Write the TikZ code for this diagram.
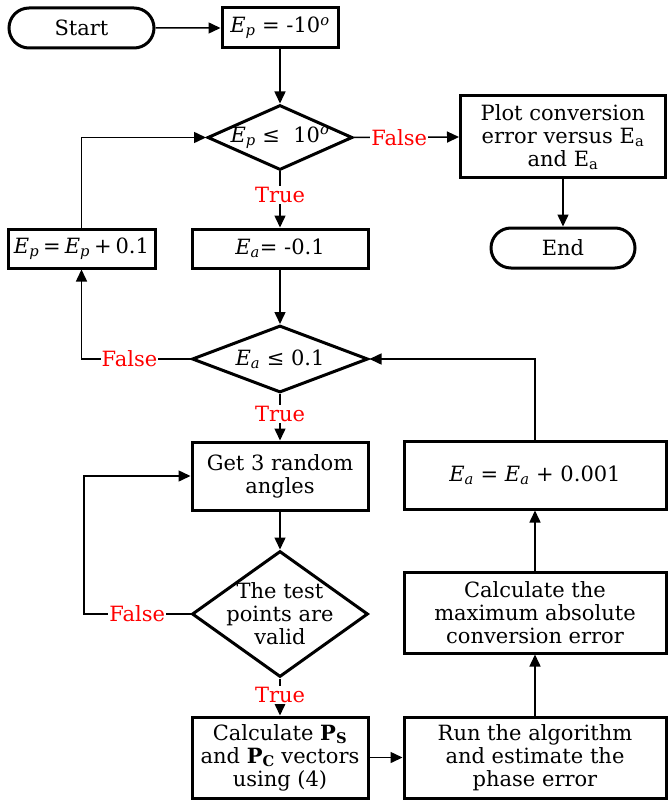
\documentclass[tikz,border=0pt]{standalone}
\usepackage{fontspec}
\setmainfont{DejaVu Serif}
\usetikzlibrary{shapes.geometric,shapes.misc,arrows.meta}
\newcommand{\Ep}{\textit{E}\textsubscript{\textit{p}}}
\newcommand{\Ea}{\textit{E}\textsubscript{\textit{a}}}
\tikzset{
 box/.style={draw, line width=3pt, align=center, inner sep=1pt},
 term/.style={draw, line width=3pt, rounded rectangle, inner sep=1pt},
 test/.style={draw, diamond, line width=3pt, inner sep=0pt},
 lab/.style={text=red, fill=white, inner sep=1pt},
 flow/.style={->, line width=1.5pt},
}
\begin{document}
\begin{tikzpicture}[x=1pt, y=-1pt, >={Triangle[length=12pt,width=11pt]}, font=\fontsize{21}{23}\selectfont]
\useasboundingbox (0,0) rectangle (667,805);

\node[term, minimum width=147pt, minimum height=40pt] (start) at (81.5,28) {Start};
\node[box, minimum width=116pt, minimum height=40pt] (ep0) at (280,28) {\Ep{} = -10\textsuperscript{\textit{o}}};
\node[test, minimum width=145pt, minimum height=65pt] (d1) at (280,137.5) {};
\node (d1t) at (d1) {\Ep{} ≤~ 10\textsuperscript{\textit{o}}};
\node[box, minimum width=205pt, minimum height=82pt] (plot) at (563,137) {Plot conversion\\error versus E\textsubscript{a}\\and E\textsubscript{a}};
\node[term, minimum width=146pt, minimum height=40pt] (end) at (563,248) {End};
\node[box, minimum width=176pt, minimum height=39pt] (ea0) at (280,248.5) {\Ea= -0.1};
\node[box, minimum width=147pt, minimum height=39pt] (ep1) at (81.5,248.5) {\Ep\hspace{4pt}=\hspace{4pt}\Ep\hspace{4pt}+\hspace{4pt}0.1};
\node[test, minimum width=176pt, minimum height=67pt] (d2) at (280,359) {};
\node (d2t) at (d2) {\Ea{} ≤ 0.1};
\node[box, minimum width=176pt, minimum height=68pt] (rand) at (280,476) {Get 3 random\\angles};
\node[test, minimum width=176pt, minimum height=126pt] (d3) at (280,614) {};
\node[align=center] (d3t) at (d3) {The test\\points are\\valid};
\node[box, minimum width=176pt, minimum height=81pt] (pvec) at (280,757.5) {Calculate \textbf{P\textsubscript{S}}\\and \textbf{P\textsubscript{C}} vectors\\using (4)};
\node[box, minimum width=262pt, minimum height=81pt] (run) at (535,757.5) {Run the algorithm\\and estimate the\\phase error};
\node[box, minimum width=262pt, minimum height=81pt] (maxerr) at (535,612.5) {Calculate the\\maximum absolute\\conversion error};
\node[box, minimum width=262pt, minimum height=68pt] (ea1) at (535,475) {\Ea{} = \Ea{} + 0.001};

\coordinate (loop) at (84,614);

\draw[flow] (start) -- (ep0);
\draw[flow] (ep0) -- (d1);
\draw[flow] (d1.east) -- node[lab, pos=0.43]{False} (plot.west);
\draw[flow] (plot) -- (end);
\draw[flow] (d1.south) -- node[lab, pos=0.42]{True} (ea0.north);
\draw[flow] (ep1.north) |- (d1.west);
\draw[flow] (ea0) -- (d2);
\draw[flow] (d2.west) -- node[lab, pos=0.56]{False} (d2.west -| ep1.south) -- (ep1.south);
\draw[flow] (d2.south) -- node[lab, pos=0.43]{True} (rand.north);
\draw[flow] (rand) -- (d3);
\draw[flow] (d3.west) -- node[lab, pos=0.5]{False} (loop) |- (rand.west);
\draw[flow] (d3.south) -- node[lab, pos=0.45]{True} (pvec.north);
\draw[flow] (pvec) -- (run);
\draw[flow] (run) -- (maxerr);
\draw[flow] (maxerr) -- (ea1);
\draw[flow] (ea1.north) |- (d2.east);

\end{tikzpicture}
\end{document}
